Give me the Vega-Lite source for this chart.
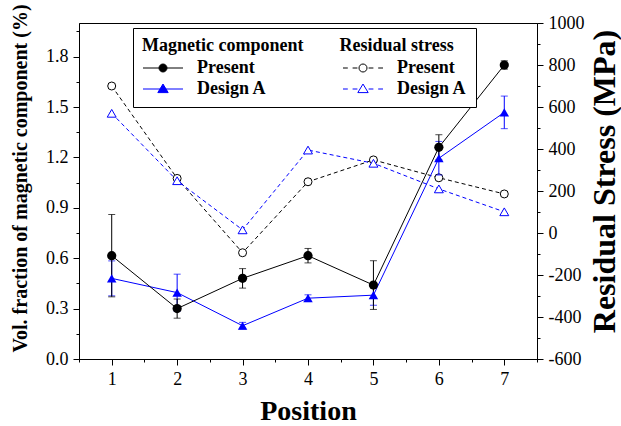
{
  "$schema": "https://vega.github.io/schema/vega-lite/v6.json",
  "width": 458,
  "height": 336,
  "autosize": {"type": "none"},
  "padding": {"left": 79, "top": 23, "right": 84, "bottom": 67},
  "background": "white",
  "config": {
    "view": {"stroke": "black", "strokeWidth": 1},
    "axis": {
      "grid": false,
      "domainColor": "black",
      "tickColor": "black",
      "labelColor": "black",
      "titleColor": "black",
      "labelFont": "Liberation Serif",
      "labelFontSize": 18,
      "titleFont": "Liberation Serif",
      "titleFontWeight": "bold",
      "labelPadding": 5,
      "labelOverlap": false,
      "labelFlush": false,
      "tickWidth": 1,
      "domainWidth": 1
    },
    "legend": {
      "titleFont": "Liberation Serif",
      "titleFontSize": 18,
      "titleFontWeight": "bold",
      "titleColor": "black",
      "titlePadding": 4,
      "titleLimit": 500,
      "labelFont": "Liberation Serif",
      "labelFontSize": 18,
      "labelFontWeight": "bold",
      "labelColor": "black",
      "strokeColor": "black",
      "fillColor": "white",
      "padding": 9,
      "symbolSize": 256,
      "symbolStrokeWidth": 1,
      "labelOffset": 37,
      "columnPadding": 74,
      "rowPadding": 3
    }
  },
  "data": {
    "values": [
      {"pos": 1, "series": "m-present", "value": 0.615, "err": 0.245},
      {"pos": 2, "series": "m-present", "value": 0.30, "err": 0.057},
      {"pos": 3, "series": "m-present", "value": 0.48, "err": 0.058},
      {"pos": 4, "series": "m-present", "value": 0.615, "err": 0.043},
      {"pos": 5, "series": "m-present", "value": 0.44, "err": 0.145},
      {"pos": 6, "series": "m-present", "value": 1.26, "err": 0.075},
      {"pos": 7, "series": "m-present", "value": 1.75, "err": 0.025},
      {"pos": 1, "series": "m-design", "value": 0.48, "err": 0.104},
      {"pos": 2, "series": "m-design", "value": 0.395, "err": 0.11},
      {"pos": 3, "series": "m-design", "value": 0.198, "err": 0.02},
      {"pos": 4, "series": "m-design", "value": 0.362, "err": 0.02},
      {"pos": 5, "series": "m-design", "value": 0.38, "err": 0.06},
      {"pos": 6, "series": "m-design", "value": 1.195, "err": 0.1},
      {"pos": 7, "series": "m-design", "value": 1.468, "err": 0.097},
      {"pos": 1, "series": "r-present", "value": 700},
      {"pos": 2, "series": "r-present", "value": 260},
      {"pos": 3, "series": "r-present", "value": -94},
      {"pos": 4, "series": "r-present", "value": 244},
      {"pos": 5, "series": "r-present", "value": 348},
      {"pos": 6, "series": "r-present", "value": 263},
      {"pos": 7, "series": "r-present", "value": 186},
      {"pos": 1, "series": "r-design", "value": 570},
      {"pos": 2, "series": "r-design", "value": 249},
      {"pos": 3, "series": "r-design", "value": 15},
      {"pos": 4, "series": "r-design", "value": 395},
      {"pos": 5, "series": "r-design", "value": 332},
      {"pos": 6, "series": "r-design", "value": 210},
      {"pos": 7, "series": "r-design", "value": 101}
    ]
  },
  "encoding": {
    "x": {
      "field": "pos",
      "type": "quantitative",
      "scale": {"domain": [0.5, 7.5], "nice": false, "zero": false},
      "axis": {
        "values": [0.5, 1, 1.5, 2, 2.5, 3, 3.5, 4, 4.5, 5, 5.5, 6, 6.5, 7, 7.5],
        "labelExpr": "datum.value % 1 == 0 ? '' + datum.value : ''",
        "tickSize": {"condition": {"test": "datum.value % 1 != 0", "value": 3}, "value": 6},
        "title": "Position",
        "titleFontSize": 28,
        "titlePadding": 9
      }
    }
  },
  "layer": [
    {
      "encoding": {
        "y": {
          "field": "value",
          "type": "quantitative",
          "scale": {"domain": [-600, 1000], "nice": false, "zero": false},
          "axis": {
            "orient": "right",
            "values": [-600, -500, -400, -300, -200, -100, 0, 100, 200, 300, 400, 500, 600, 700, 800, 900, 1000],
            "labelExpr": "datum.value % 200 == 0 ? '' + datum.value : ''",
            "tickSize": {"condition": {"test": "datum.value % 200 != 0", "value": 3}, "value": 6},
            "title": "Residual Stress (MPa)",
            "titleFontSize": 32,
            "titleAngle": 270,
            "titleBaseline": "top",
            "titleY": 158,
            "titlePadding": 5
          }
        }
      },
      "layer": [
        {
          "transform": [{"filter": {"field": "series", "equal": "r-present"}}],
          "mark": {"type": "line", "color": "black", "strokeWidth": 1, "strokeDash": [4, 3]}
        },
        {
          "transform": [{"filter": {"field": "series", "equal": "r-design"}}],
          "mark": {"type": "line", "color": "blue", "strokeWidth": 1, "strokeDash": [4, 3]}
        },
        {
          "transform": [{"filter": {"field": "series", "equal": "r-present"}}],
          "mark": {"type": "point", "shape": "circle", "filled": true, "fill": "white", "stroke": "black", "strokeWidth": 1, "size": 64, "opacity": 1}
        },
        {
          "transform": [{"filter": {"field": "series", "equal": "r-design"}}],
          "mark": {"type": "point", "shape": "triangle-up", "filled": true, "fill": "white", "stroke": "blue", "strokeWidth": 1, "size": 80, "opacity": 1}
        },
        {
          "transform": [{"filter": "false"}],
          "mark": {"type": "point", "filled": true, "opacity": 1},
          "encoding": {
            "shape": {
              "field": "series",
              "type": "nominal",
              "scale": {
                "domain": ["m-present", "m-design", "r-present", "r-design"],
                "range": [
                  "M-1,0H4M2,0A0.5,0.5,0,1,1,1,0A0.5,0.5,0,1,1,2,0Z",
                  "M-1,0H4M1.5,-0.62L2.15,0.45L0.85,0.45Z",
                  "M-1,0H-0.4M0.2,0H0.8M2.2,0H2.8M3.4,0H4M2,0A0.5,0.5,0,1,1,1,0A0.5,0.5,0,1,1,2,0Z",
                  "M-1,0H-0.4M0.2,0H0.8M2.2,0H2.8M3.4,0H4M1.5,-0.62L2.15,0.45L0.85,0.45Z"
                ]
              },
              "legend": {
                "orient": "none",
                "legendX": 54,
                "legendY": 5,
                "columns": 2,
                "title": "Magnetic component\u00a0\u00a0\u00a0\u00a0\u00a0\u00a0\u00a0\u00a0Residual stress",
                "labelExpr": "indexof(datum.label, 'present') >= 0 ? 'Present' : 'Design A'"
              }
            },
            "fill": {
              "field": "series",
              "type": "nominal",
              "scale": {
                "domain": ["m-present", "m-design", "r-present", "r-design"],
                "range": ["black", "blue", "white", "white"]
              }
            },
            "stroke": {
              "field": "series",
              "type": "nominal",
              "scale": {
                "domain": ["m-present", "m-design", "r-present", "r-design"],
                "range": ["black", "blue", "black", "blue"]
              }
            }
          }
        }
      ]
    },
    {
      "encoding": {
        "y": {
          "field": "value",
          "type": "quantitative",
          "scale": {"domain": [0, 2], "nice": false},
          "axis": {
            "orient": "left",
            "values": [0, 0.15, 0.3, 0.45, 0.6, 0.75, 0.9, 1.05, 1.2, 1.35, 1.5, 1.65, 1.8, 1.95],
            "labelExpr": "round(datum.value * 100) % 30 == 0 ? format(datum.value, '.1f') : ''",
            "tickSize": {"condition": {"test": "round(datum.value * 100) % 30 != 0", "value": 3}, "value": 6},
            "title": "Vol. fraction of magnetic component (%)",
            "titleFontSize": 20,
            "titleY": 155,
            "titlePadding": 15
          }
        }
      },
      "layer": [
        {
          "transform": [{"filter": {"field": "series", "equal": "m-design"}}],
          "mark": {"type": "line", "color": "blue", "strokeWidth": 1}
        },
        {
          "transform": [{"filter": {"field": "series", "equal": "m-present"}}],
          "mark": {"type": "line", "color": "black", "strokeWidth": 1}
        },
        {
          "transform": [{"filter": {"field": "series", "equal": "m-design"}}],
          "mark": {"type": "errorbar", "color": "blue", "ticks": {"size": 7, "color": "blue"}},
          "encoding": {"yError": {"field": "err"}}
        },
        {
          "transform": [{"filter": {"field": "series", "equal": "m-present"}}],
          "mark": {"type": "errorbar", "color": "black", "ticks": {"size": 7, "color": "black"}},
          "encoding": {"yError": {"field": "err"}}
        },
        {
          "transform": [{"filter": {"field": "series", "equal": "m-present"}}],
          "mark": {"type": "point", "shape": "circle", "filled": true, "color": "black", "size": 85, "opacity": 1}
        },
        {
          "transform": [{"filter": {"field": "series", "equal": "m-design"}}],
          "mark": {"type": "point", "shape": "triangle-up", "filled": true, "color": "blue", "size": 90, "opacity": 1}
        }
      ]
    }
  ],
  "resolve": {"scale": {"y": "independent"}}
}
